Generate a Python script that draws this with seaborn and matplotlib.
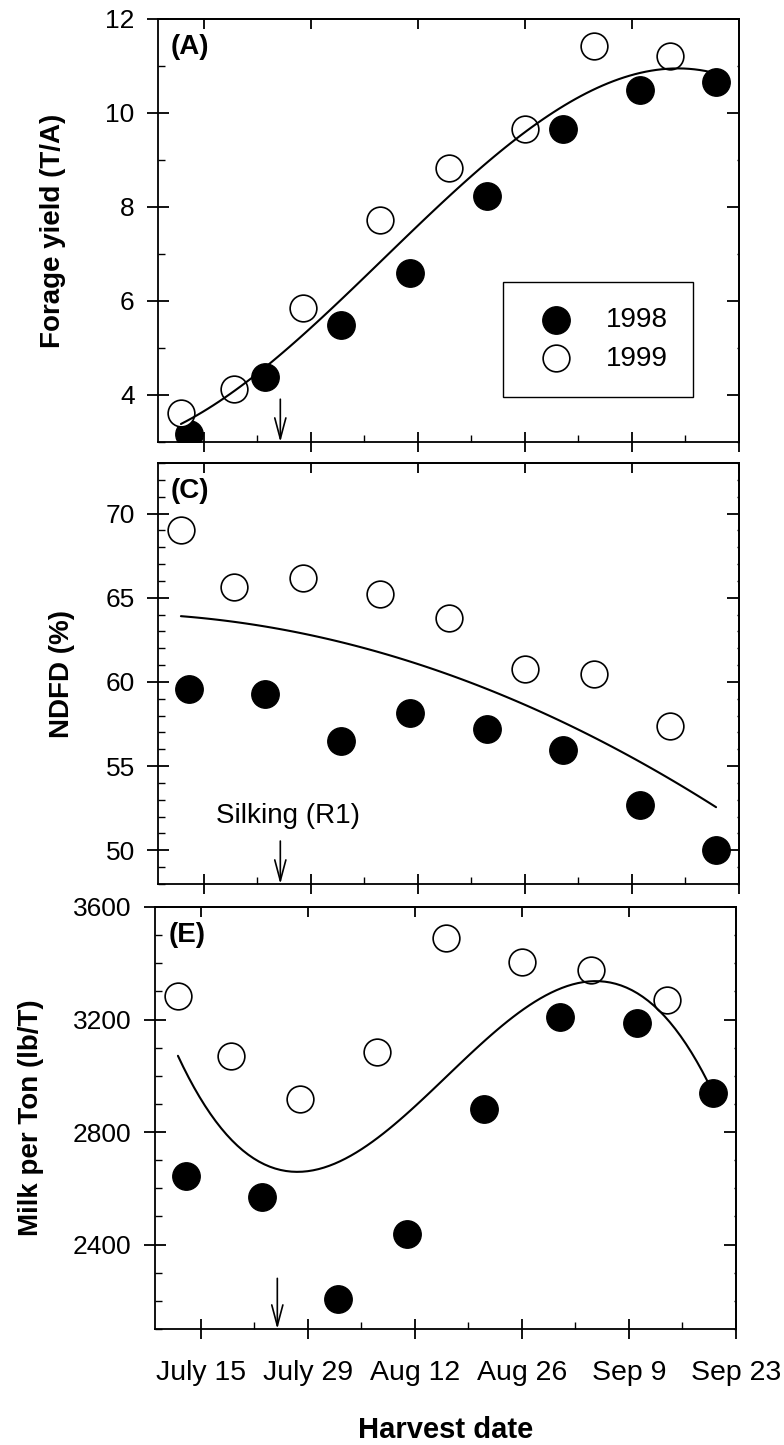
import numpy as np
import pandas as pd
import matplotlib
matplotlib.use("Agg")
import matplotlib.pyplot as plt
import seaborn as sns
from matplotlib.ticker import MultipleLocator, FixedLocator, NullLocator

# ---------------- data (x = days after July 1; July 15 = 14) ----------------
days_1998 = [12, 22, 32, 41, 51, 61, 71, 81]
days_1999 = [11, 18, 27, 37, 46, 56, 65, 75]

yield_1998 = [3.16, 4.39, 5.49, 6.59, 8.23, 9.67, 10.50, 10.67]
yield_1999 = [3.61, 4.12, 5.86, 7.72, 8.84, 9.66, 11.42, 11.22]

ndfd_1998 = [59.6, 59.3, 56.5, 58.15, 57.2, 55.95, 52.7, 50.0]
ndfd_1999 = [69.05, 65.65, 66.15, 65.2, 63.8, 60.75, 60.45, 57.4]

milk_1998 = [2644, 2569, 2208, 2437, 2883, 3209, 3186, 2939]
milk_1999 = [3284, 3069, 2919, 3085, 3490, 3406, 3375, 3271]

tick_days = [14, 28, 42, 56, 70, 84]
minor_days = [21, 35, 49, 63, 77]
tick_labels = ["July 15", "July 29", "Aug 12", "Aug 26", "Sep 9", "Sep 23"]
silking_day = 24
years = ["1998", "1999"]
panel_letters = ["(A)", "(C)", "(E)"]
y_titles = ["Forage yield (T/A)", "NDFD (%)", "Milk per Ton (lb/T)"]
fit_orders = [3, 2, 3]

# ---------------- style ----------------
sns.set_style("ticks")
plt.rcParams["font.family"] = ["Liberation Sans", "DejaVu Sans"]
plt.rcParams["axes.linewidth"] = 1.3
for key in ["text.color", "axes.labelcolor", "xtick.color", "ytick.color",
            "axes.edgecolor", "xtick.labelcolor", "ytick.labelcolor"]:
    plt.rcParams[key] = "black"

W, H = 784, 1445
fig = plt.figure(figsize=(W / 100, H / 100), dpi=100)

def frac(left, right, top, bottom):
    return [left / W, 1 - bottom / H, (right - left) / W, (bottom - top) / H]

axA = fig.add_axes(frac(158, 739, 19, 442))
axC = fig.add_axes(frac(158, 739, 463, 884))
axE = fig.add_axes(frac(155, 736, 907, 1329))
axes = [axA, axC, axE]

panels = [
    (yield_1998, yield_1999, (3, 12), 2, 1),
    (ndfd_1998, ndfd_1999, (48, 73), 5, 1),
    (milk_1998, milk_1999, (2100, 3600), 400, 100),
]

for i, (ax, (v98, v99, ylim, ymaj, ymin)) in enumerate(zip(axes, panels)):
    sns.scatterplot(x=days_1998, y=v98, ax=ax, s=390, color="black",
                    edgecolor="black", linewidth=1.0, zorder=3, label=years[0])
    sns.scatterplot(x=days_1999, y=v99, ax=ax, s=370, color="white",
                    edgecolor="black", linewidth=1.2, zorder=3, label=years[1])
    all_x = np.array(days_1998 + days_1999, dtype=float)
    all_y = np.array(list(v98) + list(v99), dtype=float)
    sns.regplot(x=all_x, y=all_y, order=fit_orders[i], ci=None, scatter=False,
                color="black", line_kws=dict(lw=1.5, zorder=4), ax=ax, truncate=True)

    ax.set_xlim(8, 84)
    ax.set_ylim(*ylim)
    ax.xaxis.set_major_locator(FixedLocator(tick_days))
    ax.xaxis.set_minor_locator(FixedLocator(minor_days))
    ax.yaxis.set_major_locator(MultipleLocator(ymaj))
    ax.yaxis.set_minor_locator(MultipleLocator(ymin))
    ax.tick_params(axis="y", which="major", direction="inout", length=15.5,
                   width=1.3, pad=9, labelsize=19, colors="black")
    ax.tick_params(axis="y", which="minor", direction="in", length=5, width=1.0,
                   colors="black")
    ax.tick_params(axis="x", which="major", direction="inout", length=15,
                   width=1.3, pad=15, labelsize=20.5, colors="black")
    ax.tick_params(axis="x", which="minor", direction="in", length=5, width=1.0,
                   colors="black")
    if i < 2:
        ax.tick_params(axis="x", labelbottom=False)
    else:
        ax.set_xticklabels(tick_labels)
    for sp in ax.spines.values():
        sp.set_color("black")
        sp.set_linewidth(1.3)

    top = ax.secondary_xaxis("top")
    top.xaxis.set_major_locator(FixedLocator(tick_days))
    top.xaxis.set_minor_locator(NullLocator())
    top.tick_params(axis="x", which="major", direction="in", length=7,
                    width=1.3, labeltop=False, colors="black")
    right = ax.secondary_yaxis("right")
    right.yaxis.set_major_locator(MultipleLocator(ymaj))
    right.yaxis.set_minor_locator(MultipleLocator(ymin))
    right.tick_params(axis="y", which="major", direction="in", length=8.5,
                      width=1.3, labelright=False, colors="black")
    right.tick_params(axis="y", which="minor", direction="in", length=1.2,
                      width=1.0, colors="black")

    ax.set_xlabel("")
    ax.set_ylabel(y_titles[i], fontsize=20, fontweight="bold", color="black")
    ax.yaxis.label.set_va("center")
    ax.text(0.055, 0.934, panel_letters[i], transform=ax.transAxes,
            ha="center", va="center", fontsize=20, fontweight="bold", color="black")
    if ax.get_legend() is not None:
        ax.get_legend().remove()

axA.yaxis.set_label_coords((53 - 158) / 581, 0.5)
axC.yaxis.set_label_coords((62 - 158) / 581, 0.5)
axE.yaxis.set_label_coords((31 - 155) / 581, 0.5)

axE.set_xlabel("Harvest date", fontsize=21, fontweight="bold", color="black")
axE.xaxis.label.set_va("baseline")
axE.xaxis.set_label_coords(0.5, (1329 - 1438) / 422)

# legend in panel A
handles, labels = axA.get_legend_handles_labels()
leg = axA.legend(handles[:2], labels[:2], loc="upper left",
                 bbox_to_anchor=(0.594, 0.378), frameon=True, fancybox=False,
                 edgecolor="black", framealpha=1, fontsize=20, borderpad=0.9,
                 labelspacing=0.45, handlelength=2.0, handletextpad=0.8,
                 borderaxespad=0, scatterpoints=1)
leg.get_frame().set_linewidth(1.0)
for t in leg.get_texts():
    t.set_color("black")

# silking arrows
arrow_kw = dict(arrowstyle="->,head_length=0.75,head_width=0.2", lw=1.2,
                color="black", mutation_scale=20, shrinkA=0, shrinkB=0)
axA.annotate("", xy=(silking_day, 3.0), xytext=(silking_day, 3.91), arrowprops=arrow_kw)
axC.annotate("", xy=(silking_day, 48.0), xytext=(silking_day, 50.55), arrowprops=arrow_kw)
axE.annotate("", xy=(silking_day, 2100), xytext=(silking_day, 2280), arrowprops=arrow_kw)
axC.text(silking_day + 1, 51.65, "Silking (R1)", ha="center", va="baseline",
         fontsize=20, color="black")

fig.savefig("out.png", dpi=100)
